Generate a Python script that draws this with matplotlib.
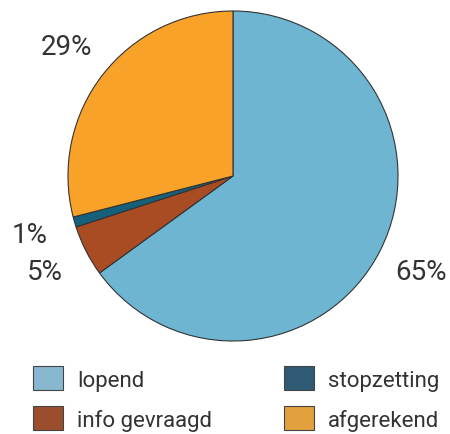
import matplotlib.pyplot as plt
from matplotlib.patches import Patch

plt.rcParams['font.family'] = ['Roboto', 'DejaVu Sans']

labels = ['lopend', 'info gevraagd', 'stopzetting', 'afgerekend']
values = [65, 5, 1, 29]
pie_colors = ['#6db5d0', '#a94c24', '#15607a', '#f9a229']
legend_colors = ['#88b8d0', '#9a4e2e', '#2f5a73', '#e3a13e']
text_color = '#333333'

fig = plt.figure(figsize=(4.5, 4.35), dpi=100)
ax = fig.add_axes([68 / 450, 93 / 435, 330 / 450, 330 / 435])

wedges, texts, autotexts = ax.pie(
    values, colors=pie_colors, startangle=90, counterclock=False,
    radius=1, autopct='%.0f%%', pctdistance=1.28,
    wedgeprops=dict(edgecolor='#333333', linewidth=0.8),
    textprops=dict(fontsize=20, color=text_color))
ax.set_xlim(-1, 1)
ax.set_ylim(-1, 1)
ax.set_aspect('equal')

handles = [Patch(facecolor=c, edgecolor='#444444', linewidth=0.8) for c in legend_colors]
leg = fig.legend(handles, labels, ncol=2, loc='upper left',
                 bbox_to_anchor=(33 / 450, 1 - 367 / 435),
                 frameon=False, fontsize=16, handlelength=1.35, handleheight=1.3,
                 handletextpad=0.65, labelspacing=0.7, columnspacing=3.2,
                 borderpad=0, borderaxespad=0)
for t in leg.get_texts():
    t.set_color(text_color)

fig.savefig('out.png', dpi=100)
